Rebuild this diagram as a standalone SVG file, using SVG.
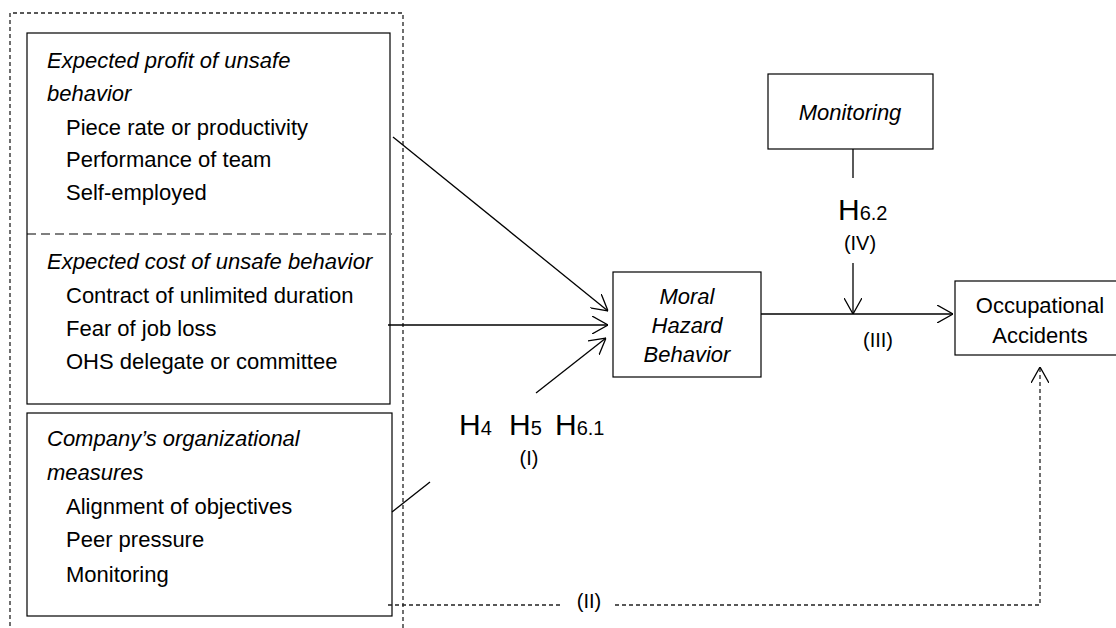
<svg xmlns="http://www.w3.org/2000/svg" width="1116" height="628" viewBox="0 0 1116 628">
<style>
.box{fill:#fff;stroke:#000;stroke-width:1.2}
.t{font-family:"Liberation Sans",Arial,sans-serif;font-size:22px;fill:#000}
.i{font-style:italic}
.c{text-anchor:middle}
.lbl{font-family:"Liberation Sans",Arial,sans-serif;font-size:20px;fill:#000}
.h{font-family:"Liberation Sans",Arial,sans-serif;font-size:30px;fill:#000}
.sub{font-size:20px}
.ln{fill:none;stroke:#000;stroke-width:1.3}
.dot{fill:none;stroke:#222;stroke-width:1.3;stroke-dasharray:4 3}
</style>
<defs>
<marker id="arr" viewBox="0 0 16 18" refX="16" refY="9" markerWidth="16" markerHeight="18" markerUnits="userSpaceOnUse" orient="auto">
<path d="M0,0 L16,9 L0,18" fill="none" stroke="#000" stroke-width="1.3"/>
</marker>
</defs>
<rect width="1116" height="628" fill="#fff"/>
<g id="outer-group">
<path class="dot" d="M10,640 L10,13 L403,13 L403,640"/>
</g>
<g id="node-cost-profit">
<rect class="box" x="27" y="33" width="363" height="371"/>
<line x1="27" y1="234" x2="392" y2="234" stroke="#000" stroke-width="1.2" stroke-dasharray="9 5"/>
<text class="t i" x="47" y="68">Expected profit of unsafe</text>
<text class="t i" x="47" y="101">behavior</text>
<text class="t" x="66" y="135">Piece rate or productivity</text>
<text class="t" x="66" y="167">Performance of team</text>
<text class="t" x="66" y="200">Self-employed</text>
<text class="t i" x="47" y="269">Expected cost of unsafe behavior</text>
<text class="t" x="66" y="303">Contract of unlimited duration</text>
<text class="t" x="66" y="336">Fear of job loss</text>
<text class="t" x="66" y="369">OHS delegate or committee</text>
</g>
<g id="node-company">
<rect class="box" x="27" y="413" width="365" height="203"/>
<text class="t i" x="47" y="446">Company’s organizational</text>
<text class="t i" x="47" y="480">measures</text>
<text class="t" x="66" y="514">Alignment of objectives</text>
<text class="t" x="66" y="547">Peer pressure</text>
<text class="t" x="66" y="582">Monitoring</text>
</g>
<g id="node-moral">
<rect class="box" x="613" y="272" width="148" height="105"/>
<text class="t i c" x="687" y="304">Moral</text>
<text class="t i c" x="687" y="333">Hazard</text>
<text class="t i c" x="687" y="362">Behavior</text>
</g>
<g id="node-monitoring">
<rect class="box" x="768" y="74" width="165" height="75"/>
<text class="t i c" x="850" y="120">Monitoring</text>
</g>
<g id="node-accidents">
<rect class="box" x="955" y="281" width="170" height="74"/>
<text class="t c" x="1040" y="313">Occupational</text>
<text class="t c" x="1040" y="343">Accidents</text>
</g>
<g id="connectors">
<line class="ln" x1="393" y1="137" x2="608" y2="311" marker-end="url(#arr)"/>
<line class="ln" x1="388" y1="325" x2="608" y2="325" marker-end="url(#arr)"/>
<line class="ln" x1="536" y1="393" x2="606" y2="338" marker-end="url(#arr)"/>
<line class="ln" x1="392" y1="512" x2="430" y2="482"/>
<line class="ln" x1="853" y1="149" x2="853" y2="178"/>
<line class="ln" x1="853" y1="263" x2="853" y2="314" marker-end="url(#arr)"/>
<line class="ln" x1="761" y1="314" x2="953" y2="314" marker-end="url(#arr)"/>
<path class="dot" d="M388,605 L563,605"/>
<path class="dot" d="M615,605 L1040,605 L1040,367" marker-end="url(#arr)"/>
</g>
<g id="labels">
<text class="h" x="459" y="435">H<tspan class="sub">4</tspan></text>
<text class="h" x="509" y="435">H<tspan class="sub">5</tspan></text>
<text class="h" x="555" y="435">H<tspan class="sub">6.1</tspan></text>
<text class="lbl c" x="529" y="465">(I)</text>
<text class="h" x="838" y="220">H<tspan class="sub">6.2</tspan></text>
<text class="lbl c" x="860" y="250">(IV)</text>
<text class="lbl c" x="878" y="347">(III)</text>
<text class="lbl c" x="589" y="608">(II)</text>
</g>
</svg>
